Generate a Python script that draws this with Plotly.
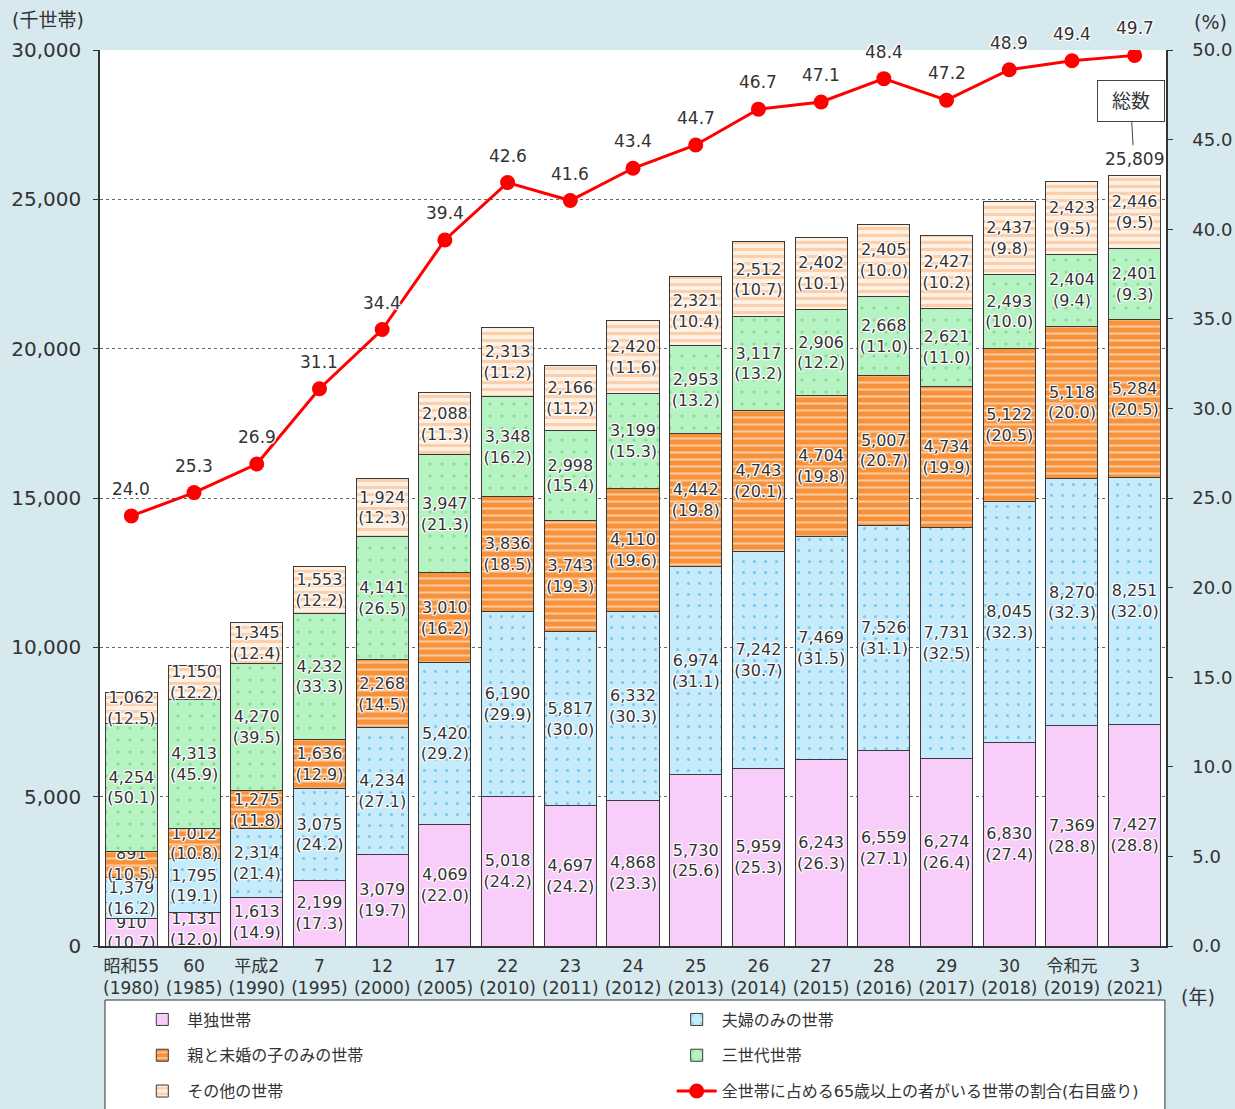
import plotly.graph_objects as go

categories = ["昭和55<br>(1980)", "60<br>(1985)", "平成2<br>(1990)", "7<br>(1995)", "12<br>(2000)",
              "17<br>(2005)", "22<br>(2010)", "23<br>(2011)", "24<br>(2012)", "25<br>(2013)",
              "26<br>(2014)", "27<br>(2015)", "28<br>(2016)", "29<br>(2017)", "30<br>(2018)",
              "令和元<br>(2019)", "3<br>(2021)"]

single = [910, 1131, 1613, 2199, 3079, 4069, 5018, 4697, 4868, 5730, 5959, 6243, 6559, 6274, 6830, 7369, 7427]
single_pct = [10.7, 12.0, 14.9, 17.3, 19.7, 22.0, 24.2, 24.2, 23.3, 25.6, 25.3, 26.3, 27.1, 26.4, 27.4, 28.8, 28.8]

couple = [1379, 1795, 2314, 3075, 4234, 5420, 6190, 5817, 6332, 6974, 7242, 7469, 7526, 7731, 8045, 8270, 8251]
couple_pct = [16.2, 19.1, 21.4, 24.2, 27.1, 29.2, 29.9, 30.0, 30.3, 31.1, 30.7, 31.5, 31.1, 32.5, 32.3, 32.3, 32.0]

parent_child = [891, 1012, 1275, 1636, 2268, 3010, 3836, 3743, 4110, 4442, 4743, 4704, 5007, 4734, 5122, 5118, 5284]
parent_child_pct = [10.5, 10.8, 11.8, 12.9, 14.5, 16.2, 18.5, 19.3, 19.6, 19.8, 20.1, 19.8, 20.7, 19.9, 20.5, 20.0, 20.5]

three_gen = [4254, 4313, 4270, 4232, 4141, 3947, 3348, 2998, 3199, 2953, 3117, 2906, 2668, 2621, 2493, 2404, 2401]
three_gen_pct = [50.1, 45.9, 39.5, 33.3, 26.5, 21.3, 16.2, 15.4, 15.3, 13.2, 13.2, 12.2, 11.0, 11.0, 10.0, 9.4, 9.3]

other = [1062, 1150, 1345, 1553, 1924, 2088, 2313, 2166, 2420, 2321, 2512, 2402, 2405, 2427, 2437, 2423, 2446]
other_pct = [12.5, 12.2, 12.4, 12.2, 12.3, 11.3, 11.2, 11.2, 11.6, 10.4, 10.7, 10.1, 10.0, 10.2, 9.8, 9.5, 9.5]

share_65 = [24.0, 25.3, 26.9, 31.1, 34.4, 39.4, 42.6, 41.6, 43.4, 44.7, 46.7, 47.1, 48.4, 47.2, 48.9, 49.4, 49.7]

total_label = "25,809"

FONT = "DejaVu Sans, Noto Sans CJK JP, sans-serif"
TXT = "#333333"
HALO = ("white 1px 0px 1px, white -1px 0px 1px, white 0px 1px 1px, white 0px -1px 1px, "
        "white 1px 1px 1px, white -1px -1px 1px, white 1px -1px 1px, white -1px 1px 1px")

series = [
    ("単独世帯", single, single_pct, "#f9cdf9", None, None, 8, 0.1, "legend"),
    ("夫婦のみの世帯", couple, couple_pct, "#c6ebfb", ".", "#2a9fe0", 11, 0.06, "legend2"),
    ("親と未婚の子のみの世帯", parent_child, parent_child_pct, "#f7923a", "-", "#ffffff", 7, 0.3, "legend"),
    ("三世代世帯", three_gen, three_gen_pct, "#b5f3c2", ".", "#62b85a", 12, 0.05, "legend2"),
    ("その他の世帯", other, other_pct, "#fff1e4", "-", "#f8ae74", 7, 0.45, "legend"),
]

fig = go.Figure()
for name, vals, pcts, color, shape, fg, size, sol, lg in series:
    texts = [f"{v:,}<br>({p:.1f})" for v, p in zip(vals, pcts)]
    marker = dict(color=color, line=dict(color="#3a3a3a", width=1))
    if shape:
        marker["pattern"] = dict(shape=shape, fgcolor=fg, bgcolor=color, size=size,
                                 solidity=sol, fillmode="overlay")
    fig.add_trace(go.Bar(
        x=categories, y=vals, name=name, marker=marker, legend=lg, legendgroup=name,
        text=texts, textposition="inside", insidetextanchor="middle",
        textangle=0, constraintext="none",
        insidetextfont=dict(family=FONT, size=16, color=TXT, shadow=HALO),
        hoverinfo="skip",
    ))

fig.add_trace(go.Scatter(
    x=categories, y=share_65, yaxis="y2", name="全世帯に占める65歳以上の者がいる世帯の割合(右目盛り)",
    mode="lines+markers", line=dict(color="#ff0000", width=3), legend="legend2",
    legendgroup="share", marker=dict(color="#ff0000", size=15), hoverinfo="skip",
))

annotations = []
for c, v in zip(categories, share_65):
    annotations.append(dict(x=c, y=v, xref="x", yref="y2", text=f"{v:.1f}", showarrow=False,
                            yshift=27, font=dict(family=FONT, size=17, color=TXT, shadow=HALO)))

totals = [a + b + c + d + e for a, b, c, d, e in zip(single, couple, parent_child, three_gen, other)]
annotations.append(dict(x=categories[-1], y=totals[-1], xref="x", yref="y", text=total_label,
                        showarrow=False, yshift=16, font=dict(family=FONT, size=17, color=TXT)))
annotations.append(dict(x=categories[-1], y=totals[-1], xref="x", yref="y", text="総数",
                        showarrow=True, ax=-4, ay=-74, standoff=30, arrowhead=0, arrowwidth=1,
                        arrowcolor="#444444", bordercolor="#444444", borderwidth=1, borderpad=6,
                        width=54, height=28,
                        bgcolor="white", font=dict(family=FONT, size=19, color=TXT)))

annotations += [
    dict(x=-0.0488, y=1.0335, xref="paper", yref="paper", text="(千世帯)", showarrow=False,
         xanchor="center", yanchor="middle", font=dict(family=FONT, size=19, color=TXT)),
    dict(x=1.0413, y=1.031, xref="paper", yref="paper", text="(%)", showarrow=False,
         xanchor="center", yanchor="middle", font=dict(family=FONT, size=19, color=TXT)),
    dict(x=1.030, y=-0.0569, xref="paper", yref="paper", text="(年)", showarrow=False,
         xanchor="center", yanchor="middle", font=dict(family=FONT, size=19, color=TXT)),
]

shapes = [dict(type="rect", xref="paper", yref="paper", x0=0.0047, x1=0.999, y0=-0.0603, y1=-0.25,
               fillcolor="white", line=dict(color="#333333", width=1), layer="below")]

legend_common = dict(orientation="v", yanchor="top", xanchor="left", bgcolor="rgba(0,0,0,0)",
                     borderwidth=0, font=dict(family=FONT, size=16, color=TXT),
                     itemwidth=40, tracegroupgap=12, traceorder="grouped")

fig.update_layout(
    width=1235, height=1109,
    margin=dict(l=100, r=69, t=50, b=163, autoexpand=False),
    paper_bgcolor="#d5e9ee", plot_bgcolor="white",
    barmode="stack", bargap=0.17,
    font=dict(family=FONT, size=17, color=TXT),
    xaxis=dict(showline=True, linecolor="#333333", linewidth=1.5, ticks="", showgrid=False,
               tickfont=dict(size=17), range=[-0.5, len(categories) - 0.5],
               ticklabelstandoff=4, automargin=False),
    yaxis=dict(range=[0, 30000], dtick=5000, tickformat=",", showline=True, linecolor="#333333",
               linewidth=1.5, ticks="outside", ticklen=5, tickcolor="#333333",
               showgrid=True, gridcolor="#666666", griddash="dot", gridwidth=1,
               zeroline=False, ticklabelstandoff=8, tickfont=dict(size=20), automargin=False),
    yaxis2=dict(range=[0, 50], dtick=5, tickformat=".1f", overlaying="y", side="right",
                showline=True, linecolor="#333333", linewidth=1.5, ticks="outside", ticklen=5,
                tickcolor="#333333", showgrid=False, zeroline=False, ticklabelstandoff=16,
                tickfont=dict(size=18), automargin=False),
    legend=dict(x=0.035, y=-0.0631, **legend_common),
    legend2=dict(x=0.5363, y=-0.0631, **legend_common),
    annotations=annotations,
    shapes=shapes,
    showlegend=True,
)

fig.write_html("out.html", config={"displayModeBar": False},
               post_script="document.body.style.margin='0px';document.body.style.overflow='hidden';")
